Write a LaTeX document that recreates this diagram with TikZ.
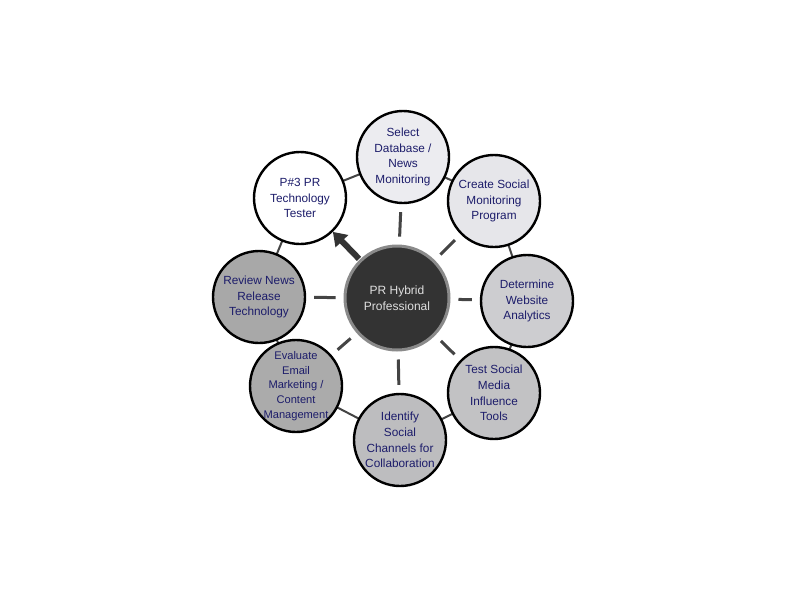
\documentclass[tikz,border=0pt]{standalone}
\usepackage{fontspec}
\setmainfont{Liberation Sans}
\usetikzlibrary{arrows.meta}
\definecolor{navy}{HTML}{1C1C6A}
\definecolor{darkc}{HTML}{333333}
\definecolor{haloc}{HTML}{8A8A8A}
\definecolor{fa}{HTML}{ECECF0}
\definecolor{fb}{HTML}{E6E6EA}
\definecolor{fc}{HTML}{CDCDD0}
\definecolor{fd}{HTML}{C2C2C4}
\definecolor{fe}{HTML}{BDBDBF}
\definecolor{ff}{HTML}{ABABAB}
\definecolor{fg}{HTML}{A8A8A8}
\definecolor{spokec}{HTML}{444444}
\tikzset{
  outer/.style={circle, draw=black, line width=2.4pt, minimum size=92pt, inner sep=-12pt,
    align=center, text=navy, font=\fontsize{11.8}{15.8}\selectfont},
  smalltext/.style={font=\fontsize{11.1}{14.7}\selectfont},
  hub/.style={circle, draw=haloc, line width=3pt, fill=darkc, minimum size=104pt, inner sep=0pt,
    align=center, text=white!88!black, font=\fontsize{12}{16}\selectfont},
  ringline/.style={draw=spokec, line width=2pt},
  spoke/.style={draw=spokec, line width=3pt, shorten <=8pt, shorten >=8pt},
  bigarrow/.style={draw=darkc, line width=6pt, shorten <=1pt, -{Triangle[width=17pt,length=13pt]}}
}
\begin{document}
\begin{tikzpicture}[x=1pt,y=-1pt]
\useasboundingbox (0,0) rectangle (794,595);
\fill[white] (0,0) rectangle (794,595);
% ring positions
\coordinate (p1) at (403,157);
\coordinate (p2) at (494,201);
\coordinate (p3) at (527,301);
\coordinate (p4) at (494,393);
\coordinate (p5) at (400,440);
\coordinate (p6) at (296,386);
\coordinate (p7) at (259,297);
\coordinate (p8) at (300,198);
% ring lines
\draw[ringline] (p1) -- (p2) -- (p3) -- (p4) -- (p5) -- (p6) -- (p7) -- (p8) -- cycle;
% nodes
\node[hub] (c) at (397,298) {PR Hybrid\\Professional};
\node[outer, fill=fa] (n1) at (p1) {Select\\Database /\\News\\Monitoring};
\node[outer, fill=fb] (n2) at (p2) {Create Social\\Monitoring\\Program};
\node[outer, fill=fc] (n3) at (p3) {Determine\\Website\\Analytics};
\node[outer, fill=fd] (n4) at (p4) {Test Social\\Media\\Influence\\Tools};
\node[outer, fill=fe] (n5) at (p5) {Identify\\Social\\Channels for\\Collaboration};
\node[outer, smalltext, fill=ff] (n6) at (p6) {Evaluate\\Email\\Marketing /\\Content\\Management};
\node[outer, fill=fg] (n7) at (p7) {Review News\\Release\\Technology};
\node[outer, fill=white] (n8) at (p8) {P\#3 PR\\Technology\\Tester};
% spokes
\foreach \n in {n1,n2,n3,n4,n5,n6,n7}{
  \draw[spoke] (c) -- (\n);
}
\draw[bigarrow] (c) -- (n8);
\end{tikzpicture}
\end{document}
